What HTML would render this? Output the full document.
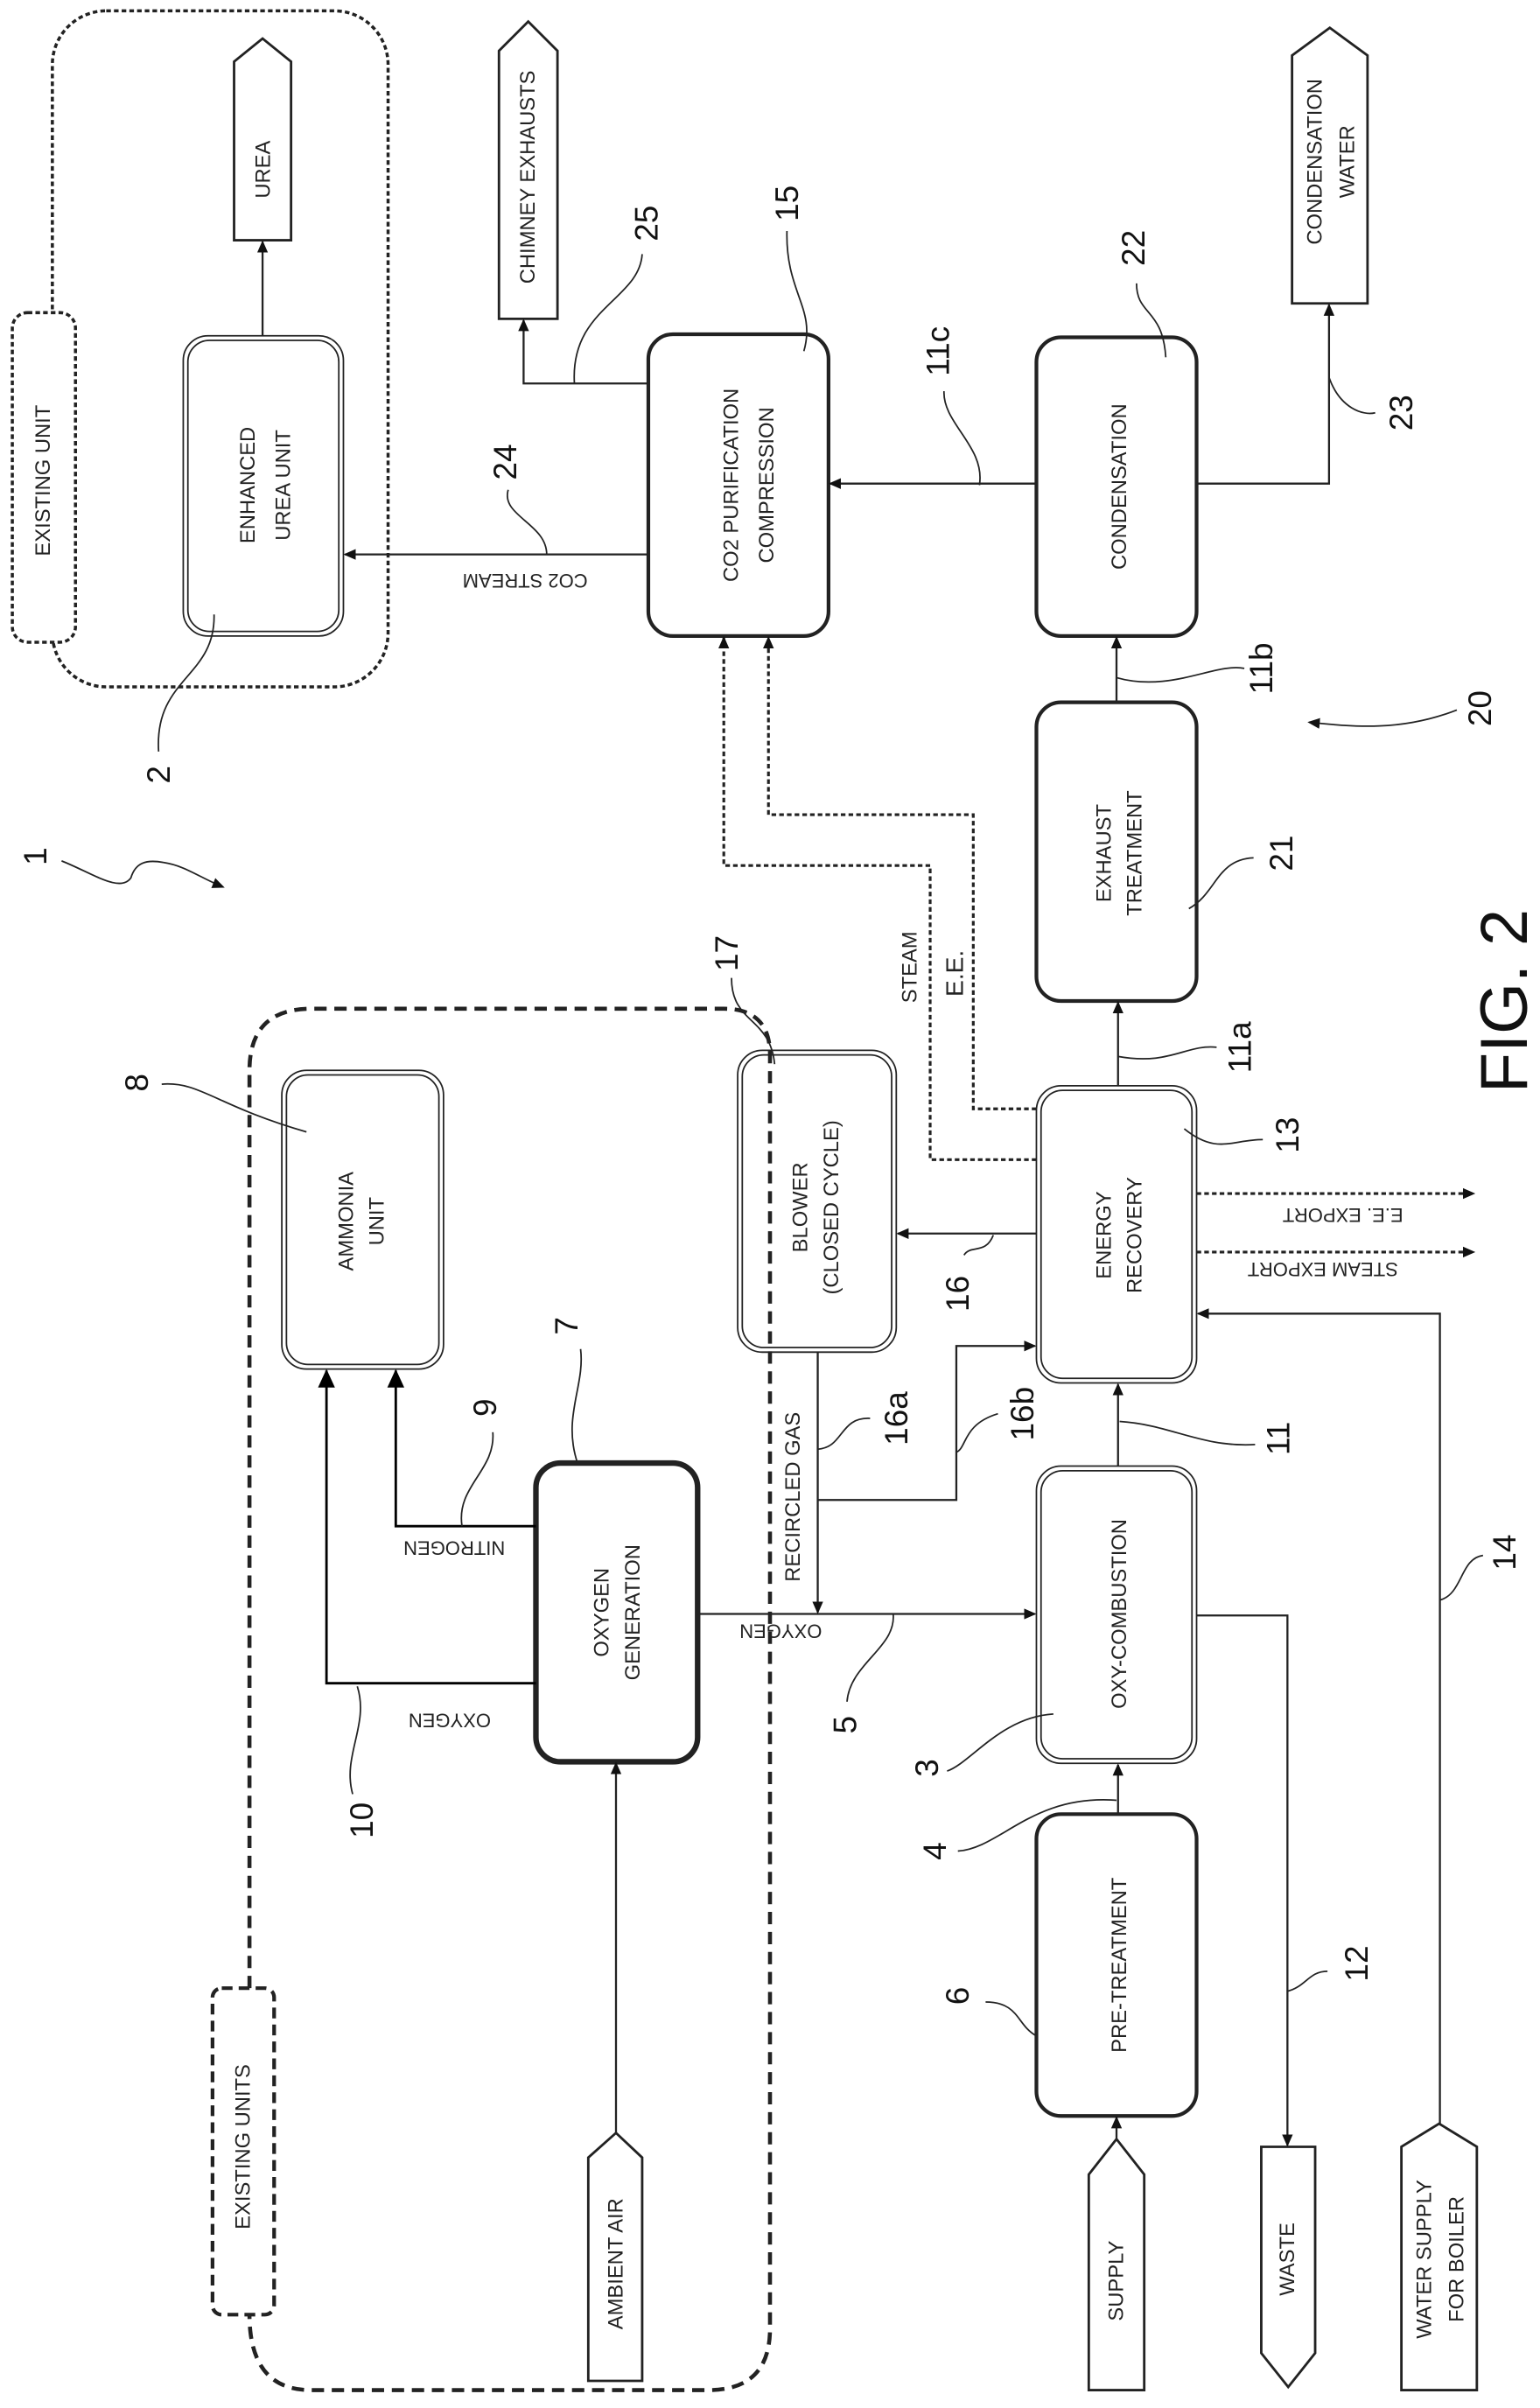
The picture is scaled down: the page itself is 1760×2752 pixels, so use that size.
<!DOCTYPE html>
<html><head><meta charset="utf-8"><style>html,body{margin:0;padding:0;background:#fff}svg{display:block}</style></head>
<body>
<svg width="1760" height="2752" viewBox="0 0 1000 1563.6" xmlns="http://www.w3.org/2000/svg" font-family="Liberation Sans, Arial, sans-serif">
<defs>
<marker id="a" markerWidth="8" markerHeight="8" refX="7" refY="4" orient="auto" markerUnits="userSpaceOnUse"><path d="M0,0.5 L8,4 L0,7.5 Z" fill="#111"/></marker>
<marker id="b" markerWidth="12" markerHeight="12" refX="11" refY="6" orient="auto" markerUnits="userSpaceOnUse"><path d="M0,0.5 L12,6 L0,11.5 Z" fill="#000"/></marker>
</defs>
<rect width="1000" height="1563.6" fill="#fff"/>
<g fill="none" stroke="#222">
<!-- dashed regions -->
<rect x="34" y="7" width="218" height="439" rx="35" stroke-width="2" stroke-dasharray="3 2"/>
<path d="M162,1291 L162,695 Q162,655 202,655 L470,655 Q500,655 500,685 L500,1512 Q500,1552 460,1552 L202,1552 Q162,1552 162,1503" stroke-width="2.6" stroke-dasharray="8 5"/>
<rect x="8" y="203" width="41" height="214" rx="10" fill="#fff" stroke-width="2" stroke-dasharray="3 2"/>
<rect x="138" y="1291" width="40" height="212" rx="6" fill="#fff" stroke-width="2.4" stroke-dasharray="7 4"/>

<!-- boxes -->
<g stroke-width="1">
<rect x="119" y="218" width="104" height="195" rx="16"/><rect x="122" y="221" width="98" height="189" rx="14"/>
<rect x="673" y="705" width="104" height="193" rx="16"/><rect x="676" y="708" width="98" height="187" rx="14"/>
<rect x="673" y="952" width="104" height="193" rx="16"/><rect x="676" y="955" width="98" height="187" rx="14"/>
<rect x="479" y="682" width="103" height="196" rx="16"/><rect x="482" y="685" width="97" height="190" rx="14"/>
<rect x="183" y="695" width="105" height="194" rx="16"/><rect x="186" y="698" width="99" height="188" rx="14"/>
</g>
<g stroke-width="2.4">
<rect x="421" y="217" width="117" height="196" rx="16"/>
<rect x="673" y="219" width="104" height="194" rx="16"/>
<rect x="673" y="456" width="104" height="194" rx="16"/>
<rect x="673" y="1178" width="104" height="196" rx="16"/>
</g>
<rect x="348" y="950" width="105" height="194" rx="16" stroke-width="3.6"/>

<!-- pentagons -->
<g stroke-width="1.6">
<path d="M152,156 L152,40 L170.5,25 L189,40 L189,156 Z"/>
<path d="M324,207 L324,33 L343,14 L362,33 L362,207 Z"/>
<path d="M839,197 L839,36 L863.5,18 L888,36 L888,197 Z"/>
<path d="M382,1546 L382,1401 L400,1385 L417,1401 L417,1546 Z"/>
<path d="M707,1552 L707,1412 L725,1389 L743,1412 L743,1552 Z"/>
<path d="M819,1394 L854,1394 L854,1528 L836.5,1550 L819,1528 Z"/>
<path d="M910,1552 L910,1394 L934.5,1379 L959,1394 L959,1552 Z"/>
</g>

<!-- connectors -->
<g stroke-width="1.3" marker-end="url(#a)">
<path d="M170.5,218 L170.5,157"/>
<path d="M421,360 L224,360"/>
<path d="M421,249 L340,249 L340,208"/>
<path d="M673,314 L539,314"/>
<path d="M777,314 L863,314 L863,198"/>
<path d="M725,456 L725,414"/>
<path d="M726,705 L726,651"/>
<path d="M726,952 L726,899"/>
<path d="M726,1178 L726,1146"/>
<path d="M725,1389 L725,1375"/>
<path d="M673,801 L583,801"/>
<path d="M935,1379 L935,853 L778,853"/>
<path d="M777,1049 L836,1049 L836,1393"/>
<path d="M453,1048 L672,1048"/>
<path d="M531,878 L531,1047"/>
<path d="M531,974 L621,974 L621,874 L672,874"/>
<path d="M400,1385 L400,1145"/>
</g>
<g stroke-width="1.6" stroke="#000" marker-end="url(#b)">
<path d="M348,991 L257,991 L257,890"/>
<path d="M348,1093 L212,1093 L212,890"/>
</g>
<g stroke-width="1.8" stroke-dasharray="3 2" marker-end="url(#a)">
<path d="M673,753 L604,753 L604,562 L470,562 L470,414"/>
<path d="M673,720 L632,720 L632,529 L499,529 L499,414"/>
<path d="M777,775 L957,775"/>
<path d="M777,813 L957,813"/>
</g>

<!-- leaders -->
<g stroke-width="1">
<path d="M103,488 C100,440 140,440 139,399"/>
<path d="M330,318 C325,335 355,340 355,360"/>
<path d="M373,249 C370,200 415,195 417,165"/>
<path d="M522,228 C530,200 510,190 511,150"/>
<path d="M757,232 C755,200 738,205 738,184"/>
<path d="M636,315 C640,290 612,275 613,254"/>
<path d="M863,245 C870,265 885,270 893,268"/>
<path d="M725,440 C760,450 790,430 808,434"/>
<path d="M772,590 C790,580 790,558 814,557"/>
<path d="M726,686 C760,692 770,678 790,680"/>
<path d="M769,733 C790,750 800,740 820,740"/>
<path d="M503,691 C500,660 475,665 475,635"/>
<path d="M645,802 C640,815 630,808 626,815"/>
<path d="M531,941 C548,940 545,920 565,921"/>
<path d="M621,943 C628,940 625,925 648,918"/>
<path d="M727,923 C760,925 780,940 815,938"/>
<path d="M935,1039 C950,1035 948,1012 963,1010"/>
<path d="M105,704 C130,702 140,718 199,735"/>
<path d="M300,991 C296,965 322,955 320,930"/>
<path d="M375,950 C365,920 380,900 377,876"/>
<path d="M232,1095 C240,1120 222,1140 229,1165"/>
<path d="M580,1048 C582,1070 552,1080 550,1105"/>
<path d="M684,1113 C650,1115 630,1145 615,1150"/>
<path d="M725,1169 C670,1165 650,1200 622,1202"/>
<path d="M673,1322 C660,1315 662,1300 640,1300"/>
<path d="M836,1293 C848,1290 850,1280 862,1280"/>
<path d="M946,461 C910,475 880,472 850,469" marker-end="url(#a)"/>
<path d="M40,559 C60,567 78,580 85,570 C88,560 95,558 106,560 C120,562 130,570 145,576" marker-end="url(#a)"/>
</g>
</g>

<!-- rotated box labels -->
<g font-size="13.5" fill="#222" text-anchor="middle" dominant-baseline="central">
<text transform="translate(161,315) rotate(-90)">ENHANCED</text>
<text transform="translate(184,315) rotate(-90)">UREA UNIT</text>
<text transform="translate(475,315) rotate(-90)">CO2 PURIFICATION</text>
<text transform="translate(498,315) rotate(-90)">COMPRESSION</text>
<text transform="translate(727,316) rotate(-90)">CONDENSATION</text>
<text transform="translate(717,554) rotate(-90)">EXHAUST</text>
<text transform="translate(737,554) rotate(-90)">TREATMENT</text>
<text transform="translate(717,802) rotate(-90)">ENERGY</text>
<text transform="translate(737,802) rotate(-90)">RECOVERY</text>
<text transform="translate(727,1048) rotate(-90)">OXY-COMBUSTION</text>
<text transform="translate(727,1276) rotate(-90)">PRE-TREATMENT</text>
<text transform="translate(520,784) rotate(-90)">BLOWER</text>
<text transform="translate(540,784) rotate(-90)">(CLOSED CYCLE)</text>
<text transform="translate(225,793) rotate(-90)">AMMONIA</text>
<text transform="translate(245,793) rotate(-90)">UNIT</text>
<text transform="translate(391,1047) rotate(-90)">OXYGEN</text>
<text transform="translate(411,1047) rotate(-90)">GENERATION</text>
<text transform="translate(171,110) rotate(-90)">UREA</text>
<text transform="translate(343,115) rotate(-90)">CHIMNEY EXHAUSTS</text>
<text transform="translate(854,105) rotate(-90)">CONDENSATION</text>
<text transform="translate(875,105) rotate(-90)">WATER</text>
<text transform="translate(28,312) rotate(-90)">EXISTING UNIT</text>
<text transform="translate(400,1470) rotate(-90)">AMBIENT AIR</text>
<text transform="translate(158,1394) rotate(-90)">EXISTING UNITS</text>
<text transform="translate(725,1481) rotate(-90)">SUPPLY</text>
<text transform="translate(836,1467) rotate(-90)">WASTE</text>
<text transform="translate(925,1467) rotate(-90)">WATER SUPPLY</text>
<text transform="translate(946,1467) rotate(-90)">FOR BOILER</text>
<text transform="translate(515,972) rotate(-90)">RECIRCLED GAS</text>
<text transform="translate(591,628) rotate(-90)">STEAM</text>
<text transform="translate(620,632) rotate(-90)" font-size="16">E.E.</text>
</g>
<!-- upside-down labels -->
<g font-size="12.5" fill="#222" text-anchor="middle" dominant-baseline="central">
<text transform="translate(341,377) rotate(180)">CO2 STREAM</text>
<text transform="translate(295,1005) rotate(180)">NITROGEN</text>
<text transform="translate(292,1117) rotate(180)">OXYGEN</text>
<text transform="translate(507,1059) rotate(180)">OXYGEN</text>
<text transform="translate(872,789) rotate(180)">E.E. EXPORT</text>
<text transform="translate(859,824) rotate(180)">STEAM EXPORT</text>
</g>
<!-- reference numerals -->
<g font-size="21" fill="#111" text-anchor="middle" dominant-baseline="central">
<text transform="translate(103,503) rotate(-90)">2</text>
<text transform="translate(328,300) rotate(-90)">24</text>
<text transform="translate(420,145) rotate(-90)">25</text>
<text transform="translate(511,132) rotate(-90)">15</text>
<text transform="translate(736,161) rotate(-90)">22</text>
<text transform="translate(609,228) rotate(-90)">11c</text>
<text transform="translate(910,268) rotate(-90)">23</text>
<text transform="translate(819,434) rotate(-90)">11b</text>
<text transform="translate(961,460) rotate(-90)">20</text>
<text transform="translate(832,554) rotate(-90)">21</text>
<text transform="translate(805,680) rotate(-90)">11a</text>
<text transform="translate(836,737) rotate(-90)">13</text>
<text transform="translate(472,619) rotate(-90)">17</text>
<text transform="translate(622,840) rotate(-90)">16</text>
<text transform="translate(582,921) rotate(-90)">16a</text>
<text transform="translate(664,918) rotate(-90)">16b</text>
<text transform="translate(830,934) rotate(-90)">11</text>
<text transform="translate(977,1008) rotate(-90)">14</text>
<text transform="translate(89,703) rotate(-90)">8</text>
<text transform="translate(315,914) rotate(-90)">9</text>
<text transform="translate(368,861) rotate(-90)">7</text>
<text transform="translate(235,1182) rotate(-90)">10</text>
<text transform="translate(549,1120) rotate(-90)">5</text>
<text transform="translate(602,1148) rotate(-90)">3</text>
<text transform="translate(607,1202) rotate(-90)">4</text>
<text transform="translate(622,1296) rotate(-90)">6</text>
<text transform="translate(881,1275) rotate(-90)">12</text>
<text transform="translate(23,556) rotate(-90)">1</text>
<text transform="translate(977,650) rotate(-90)" font-size="43">FIG. 2</text>
</g>
</svg>
</body></html>
